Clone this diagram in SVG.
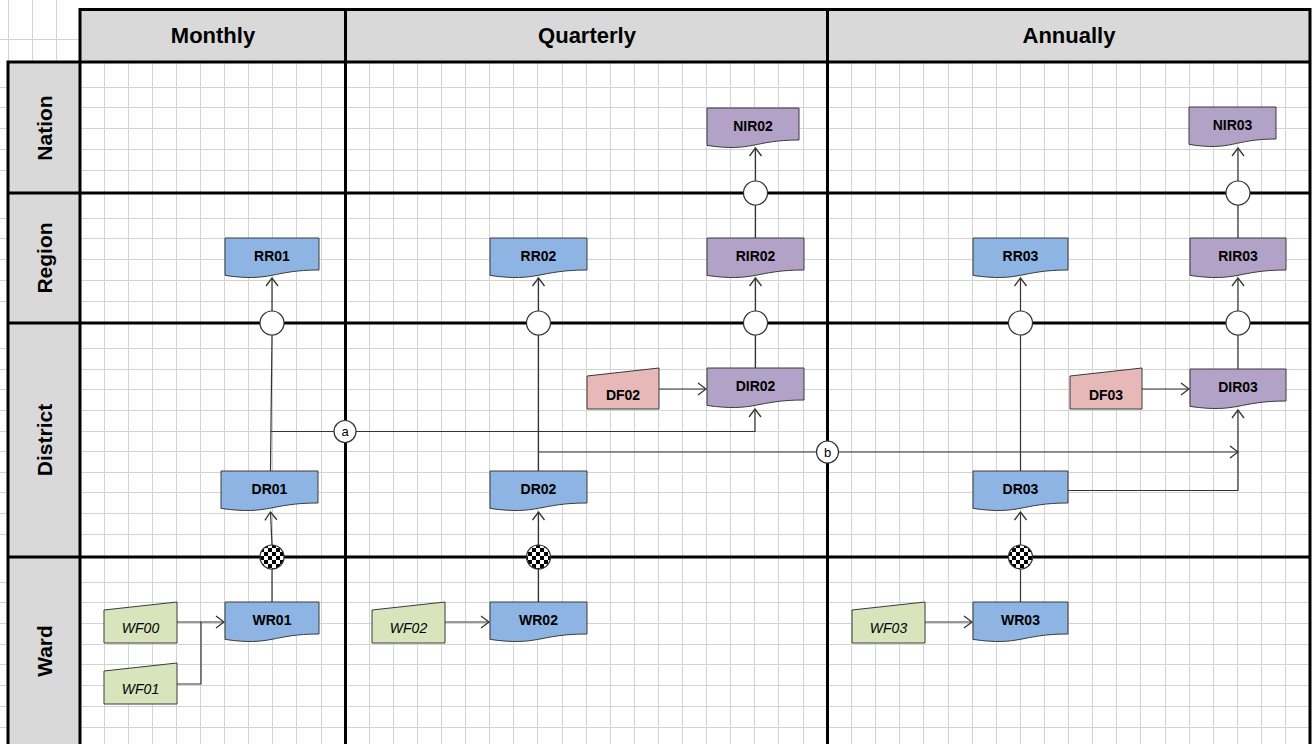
<svg xmlns="http://www.w3.org/2000/svg" width="1314" height="744" viewBox="0 0 1314 744">
<defs>
<style>
.grid{stroke:#d3d3d3;stroke-width:1;fill:none}
.thick{stroke:#000;stroke-width:3;fill:none}
.hdr{fill:#d9d9d9}
.htxt{font-family:"Liberation Sans",Arial,sans-serif;font-weight:bold;font-size:21px;fill:#000;text-anchor:middle}
.ctop{font-size:22px}
.doc{stroke:#3a3a3a;stroke-width:1}
.blue{fill:#8db4e2}
.purple{fill:#b3a2c7}
.pink{fill:#e6b9b8}
.green{fill:#d7e4bc}
.lbl{font-family:"Liberation Sans",Arial,sans-serif;font-weight:bold;font-size:14px;fill:#000;text-anchor:middle}
.ital{font-family:"Liberation Sans",Arial,sans-serif;font-style:italic;font-size:14px;fill:#000;text-anchor:middle}
.con{stroke:#333;stroke-width:1.2;fill:none}
.arr{marker-end:url(#arr)}
.jn{fill:#fff;stroke:#333;stroke-width:1.2}
.ck{fill:url(#check);stroke:#333;stroke-width:1.2}
.ctxt{font-family:"Liberation Sans",Arial,sans-serif;font-size:13px;fill:#000;text-anchor:middle}
</style>
<marker id="arr" viewBox="0 0 10 14" refX="9" refY="7" markerWidth="10" markerHeight="14" orient="auto" markerUnits="userSpaceOnUse">
<path d="M1,1 L9,7 L1,13" fill="none" stroke="#333" stroke-width="1.3"/>
</marker>
<pattern id="check" width="8" height="8" patternUnits="userSpaceOnUse">
<rect width="8" height="8" fill="#fff"/>
<rect width="4" height="4" fill="#000"/>
<rect x="4" y="4" width="4" height="4" fill="#000"/>
</pattern>
</defs>

<rect width="1314" height="744" fill="#fff"/>

<g id="background">
<rect class="hdr" x="80" y="9" width="1230" height="53"/>
<rect class="hdr" x="8" y="62" width="72" height="682"/>
<path class="grid" d="M0,39.5 H80 M8.5,0 V62 M32.5,0 V62 M56.5,0 V62
M80,87.5 H1310 M80,107.5 H1310 M80,128.5 H1310 M80,149.5 H1310 M80,170.5 H1310
M80,218.5 H1310 M80,238.5 H1310 M80,259.5 H1310 M80,280.5 H1310 M80,301.5 H1310
M80,348.5 H1310 M80,369.5 H1310 M80,389.5 H1310 M80,410.5 H1310 M80,431.5 H1310 M80,451.5 H1310 M80,472.5 H1310 M80,492.5 H1310 M80,513.5 H1310 M80,534.5 H1310
M80,582.5 H1310 M80,602.5 H1310 M80,623.5 H1310 M80,644.5 H1310 M80,664.5 H1310 M80,685.5 H1310 M80,706.5 H1310 M80,727.5 H1310
M0,87.5 H8 M0,107.5 H8 M0,128.5 H8 M0,149.5 H8 M0,170.5 H8 M0,218.5 H8 M0,238.5 H8 M0,259.5 H8 M0,280.5 H8 M0,301.5 H8 M0,348.5 H8 M0,369.5 H8 M0,389.5 H8 M0,410.5 H8 M0,431.5 H8 M0,451.5 H8 M0,472.5 H8 M0,492.5 H8 M0,513.5 H8 M0,534.5 H8 M0,582.5 H8 M0,602.5 H8 M0,623.5 H8 M0,644.5 H8 M0,664.5 H8 M0,685.5 H8 M0,706.5 H8 M0,727.5 H8
M104.5,62 V744 M128.5,62 V744 M152.5,62 V744 M176.5,62 V744 M200.5,62 V744 M224.5,62 V744 M248.5,62 V744 M272.5,62 V744 M296.5,62 V744 M321.5,62 V744
M369.5,62 V744 M393.5,62 V744 M417.5,62 V744 M441.5,62 V744 M465.5,62 V744 M489.5,62 V744 M513.5,62 V744 M537.5,62 V744 M562.5,62 V744 M586.5,62 V744 M610.5,62 V744 M634.5,62 V744 M658.5,62 V744 M682.5,62 V744 M706.5,62 V744 M730.5,62 V744 M754.5,62 V744 M778.5,62 V744 M803.5,62 V744
M851.5,62 V744 M875.5,62 V744 M899.5,62 V744 M923.5,62 V744 M948.5,62 V744 M972.5,62 V744 M996.5,62 V744 M1020.5,62 V744 M1044.5,62 V744 M1068.5,62 V744 M1092.5,62 V744 M1116.5,62 V744 M1140.5,62 V744 M1165.5,62 V744 M1189.5,62 V744 M1213.5,62 V744 M1237.5,62 V744 M1261.5,62 V744 M1285.5,62 V744"/>
<path class="thick" d="M78.5,9.5 H1311.5 M6.5,62 H1311.5 M6.5,193 H1311.5 M6.5,323 H1311.5 M6.5,557 H1311.5
M8,60.5 V744 M80,8 V744 M345.5,8 V744 M827.5,8 V744 M1310,8 V744"/>
</g>

<g id="headers">
<text class="htxt ctop" x="213" y="43">Monthly</text>
<text class="htxt ctop" x="587" y="43">Quarterly</text>
<text class="htxt ctop" x="1069" y="43">Annually</text>
<text class="htxt" transform="translate(52,128) rotate(-90)">Nation</text>
<text class="htxt" transform="translate(52,258) rotate(-90)">Region</text>
<text class="htxt" transform="translate(52,440) rotate(-90)">District</text>
<text class="htxt" transform="translate(52,651) rotate(-90)">Ward</text>
</g>

<g id="connectors">
<path class="con arr" d="M177,622 H224"/>
<path class="con" d="M177,684 H201 V622"/>
<path class="con" d="M272,602 V569"/>
<path class="con arr" d="M272,545 L270.5,512"/>
<path class="con" d="M270.5,471 L272,335"/>
<path class="con arr" d="M272,311 V278"/>
<path class="con arr" d="M271,431.5 H755 V409"/>

<path class="con arr" d="M445,622 H489"/>
<path class="con" d="M538.5,602 V569"/>
<path class="con arr" d="M538.5,545 V512"/>
<path class="con" d="M538.5,471 V335"/>
<path class="con arr" d="M538.5,311 V278"/>
<path class="con arr" d="M538.5,452 H1238"/>
<path class="con arr" d="M659,389 H706"/>
<path class="con" d="M755.5,368 V335"/>
<path class="con arr" d="M755.5,311 V278"/>
<path class="con" d="M755.5,238 V205"/>
<path class="con arr" d="M755.5,181 V148"/>

<path class="con arr" d="M925,622 H972"/>
<path class="con" d="M1020.5,602 V569"/>
<path class="con arr" d="M1020.5,545 V512"/>
<path class="con" d="M1020.5,471 V335"/>
<path class="con arr" d="M1020.5,311 V278"/>
<path class="con arr" d="M1068,490.5 H1238 V410"/>
<path class="con arr" d="M1142,389 H1189"/>
<path class="con" d="M1238,369 V335"/>
<path class="con arr" d="M1238,311 V278"/>
<path class="con" d="M1238,238 V205"/>
<path class="con arr" d="M1238,181 V148"/>

<circle class="ck" cx="272" cy="557" r="12"/>
<circle class="ck" cx="538.5" cy="557" r="12"/>
<circle class="ck" cx="1020.5" cy="557" r="12"/>
<circle class="jn" cx="272" cy="323" r="12"/>
<circle class="jn" cx="538.5" cy="323" r="12"/>
<circle class="jn" cx="755.5" cy="323" r="12"/>
<circle class="jn" cx="755.5" cy="193" r="12"/>
<circle class="jn" cx="1020.5" cy="323" r="12"/>
<circle class="jn" cx="1238" cy="323" r="12"/>
<circle class="jn" cx="1238" cy="193" r="12"/>
<circle class="jn" cx="345" cy="431.5" r="11"/>
<text class="ctxt" x="345" y="436">a</text>
<circle class="jn" cx="827.5" cy="452" r="11"/>
<text class="ctxt" x="827.5" y="457">b</text>
</g>

<g id="WF00"><path class="doc green" d="M104,610 L177,602 L177,643 L104,643 Z"/><text class="ital" x="140.5" y="633">WF00</text></g>
<g id="WF01"><path class="doc green" d="M104,671 L177,663 L177,704 L104,704 Z"/><text class="ital" x="140.5" y="694">WF01</text></g>
<g id="WF02"><path class="doc green" d="M372,610 L445,602 L445,643 L372,643 Z"/><text class="ital" x="408.5" y="633">WF02</text></g>
<g id="WF03"><path class="doc green" d="M852,610 L925,602 L925,643 L852,643 Z"/><text class="ital" x="888.5" y="633">WF03</text></g>
<g id="DF02"><path class="doc pink" d="M587,376 L659,368 L659,409 L587,409 Z"/><text class="lbl" x="623" y="400">DF02</text></g>
<g id="DF03"><path class="doc pink" d="M1070,376 L1142,368 L1142,409 L1070,409 Z"/><text class="lbl" x="1106" y="400">DF03</text></g>

<g id="WR01"><path class="doc blue" d="M225,602 h94 v32 C272,634 272,646.3 225,639.4 Z"/><text class="lbl" x="272" y="624.5">WR01</text></g>
<g id="DR01"><path class="doc blue" d="M221,471 h97 v32 C269.5,503 269.5,515.3 221,508.4 Z"/><text class="lbl" x="269.5" y="493.5">DR01</text></g>
<g id="RR01"><path class="doc blue" d="M225,238 h94 v32 C272,270 272,282.3 225,275.4 Z"/><text class="lbl" x="272" y="260.5">RR01</text></g>

<g id="WR02"><path class="doc blue" d="M490,602 h97 v32 C538.5,634 538.5,646.3 490,639.4 Z"/><text class="lbl" x="538.5" y="624.5">WR02</text></g>
<g id="DR02"><path class="doc blue" d="M490,471 h97 v32 C538.5,503 538.5,515.3 490,508.4 Z"/><text class="lbl" x="538.5" y="493.5">DR02</text></g>
<g id="RR02"><path class="doc blue" d="M490,238 h97 v32 C538.5,270 538.5,282.3 490,275.4 Z"/><text class="lbl" x="538.5" y="260.5">RR02</text></g>
<g id="DIR02"><path class="doc purple" d="M707,368 h97 v32 C755.5,400 755.5,412.3 707,405.4 Z"/><text class="lbl" x="755.5" y="390.5">DIR02</text></g>
<g id="RIR02"><path class="doc purple" d="M707,238 h97 v32 C755.5,270 755.5,282.3 707,275.4 Z"/><text class="lbl" x="755.5" y="260.5">RIR02</text></g>
<g id="NIR02"><path class="doc purple" d="M707,108 h92 v32 C753,140 753,152.3 707,145.4 Z"/><text class="lbl" x="753" y="130.5">NIR02</text></g>

<g id="WR03"><path class="doc blue" d="M973,602 h95 v32 C1020.5,634 1020.5,646.3 973,639.4 Z"/><text class="lbl" x="1020.5" y="624.5">WR03</text></g>
<g id="DR03"><path class="doc blue" d="M973,471 h95 v32 C1020.5,503 1020.5,515.3 973,508.4 Z"/><text class="lbl" x="1020.5" y="493.5">DR03</text></g>
<g id="RR03"><path class="doc blue" d="M973,238 h95 v32 C1020.5,270 1020.5,282.3 973,275.4 Z"/><text class="lbl" x="1020.5" y="260.5">RR03</text></g>
<g id="DIR03"><path class="doc purple" d="M1190,369 h96 v32 C1238,401 1238,413.3 1190,406.4 Z"/><text class="lbl" x="1238" y="391.5">DIR03</text></g>
<g id="RIR03"><path class="doc purple" d="M1190,238 h96 v32 C1238,270 1238,282.3 1190,275.4 Z"/><text class="lbl" x="1238" y="260.5">RIR03</text></g>
<g id="NIR03"><path class="doc purple" d="M1189,107 h87 v32 C1232.5,139 1232.5,151.3 1189,144.4 Z"/><text class="lbl" x="1232.5" y="129.5">NIR03</text></g>
</svg>
